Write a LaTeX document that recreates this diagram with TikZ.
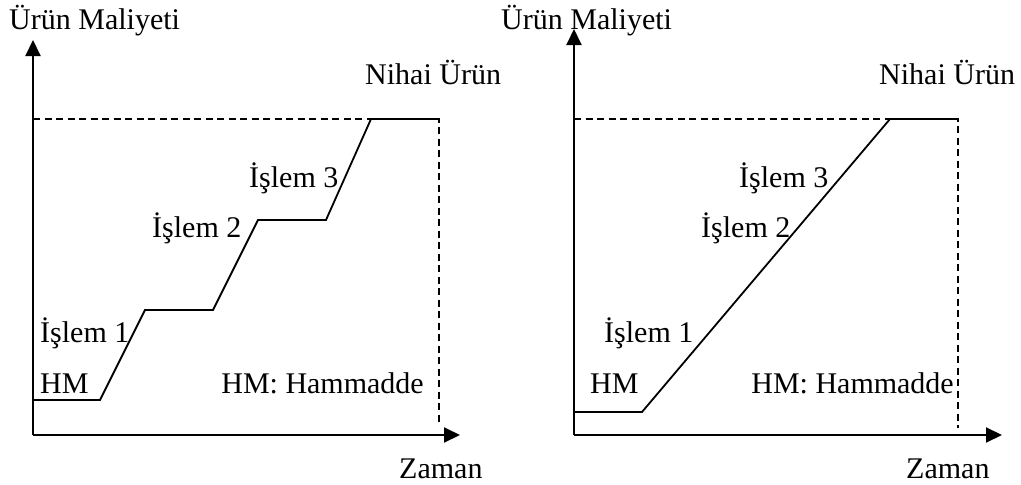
\documentclass[tikz,border=0pt]{standalone}
\usepackage{fontspec}
\setmainfont{Liberation Serif}
\usetikzlibrary{arrows.meta}
\begin{document}
\begin{tikzpicture}[x=1pt,y=-1pt,
  axis/.style={line width=2pt,-{Triangle[length=16pt,width=15pt]}},
  costline/.style={line width=1.8pt,line join=miter},
  guide/.style={line width=1.6pt,dash pattern=on 7pt off 4.5pt},
  lbl/.style={inner sep=0pt,font=\fontsize{30}{35}\selectfont}]
\useasboundingbox (0,0) rectangle (1021,485);

% ---------- stepwise cost build-up ----------
\coordinate (lo) at (33,435);
\coordinate (ly) at (33,40);
\coordinate (lx) at (460,435);
\coordinate (ltl) at (33,119);
\coordinate (ltr) at (439,119);
\coordinate (lbr) at (439,423);
\draw[guide] (ltl) -- (ltr) -- (lbr);
\draw[costline] (33,400) -- (100,400) -- (145,310) -- (213,310) -- (258,220)
  -- (326,220) -- (371,119) -- (ltr);
\draw[axis] (lo) -- (ly);
\draw[axis] (lo) -- (lx);

\node[lbl,anchor=base west] (lcost) at (9,29) {Ürün Maliyeti};
\node[lbl,anchor=base west] (lfinal) at (365,84) {Nihai Ürün};
\node[lbl,anchor=base west] (lop3) at (249,187) {İşlem 3};
\node[lbl,anchor=base west] (lop2) at (152,237) {İşlem 2};
\node[lbl,anchor=base west] (lop1) at (40,342) {İşlem 1};
\node[lbl,anchor=base west] (lraw) at (40,393) {HM};
\node[lbl,anchor=base east] (lkey) at (424,393) {HM: Hammadde};
\node[lbl,anchor=base west] (ltime) at (399,478) {Zaman};

% ---------- continuous cost build-up ----------
\coordinate (ro) at (574,435);
\coordinate (ry) at (574,29);
\coordinate (rx) at (1002,435);
\coordinate (rtl) at (574,119);
\coordinate (rtr) at (958,119);
\coordinate (rbr) at (958,428);
\draw[guide] (rtl) -- (rtr) -- (rbr);
\draw[costline] (574,412) -- (642,412) -- (890,119) -- (rtr);
\draw[axis] (ro) -- (ry);
\draw[axis] (ro) -- (rx);

\node[lbl,anchor=base west] (rcost) at (501,29) {Ürün Maliyeti};
\node[lbl,anchor=base west] (rfinal) at (879,84) {Nihai Ürün};
\node[lbl,anchor=base west] (rop3) at (739,187) {İşlem 3};
\node[lbl,anchor=base west] (rop2) at (701,237) {İşlem 2};
\node[lbl,anchor=base west] (rop1) at (604,342) {İşlem 1};
\node[lbl,anchor=base west] (rraw) at (590,393) {HM};
\node[lbl,anchor=base east] (rkey) at (954,393) {HM: Hammadde};
\node[lbl,anchor=base west] (rtime) at (906,478) {Zaman};
\end{tikzpicture}
\end{document}
